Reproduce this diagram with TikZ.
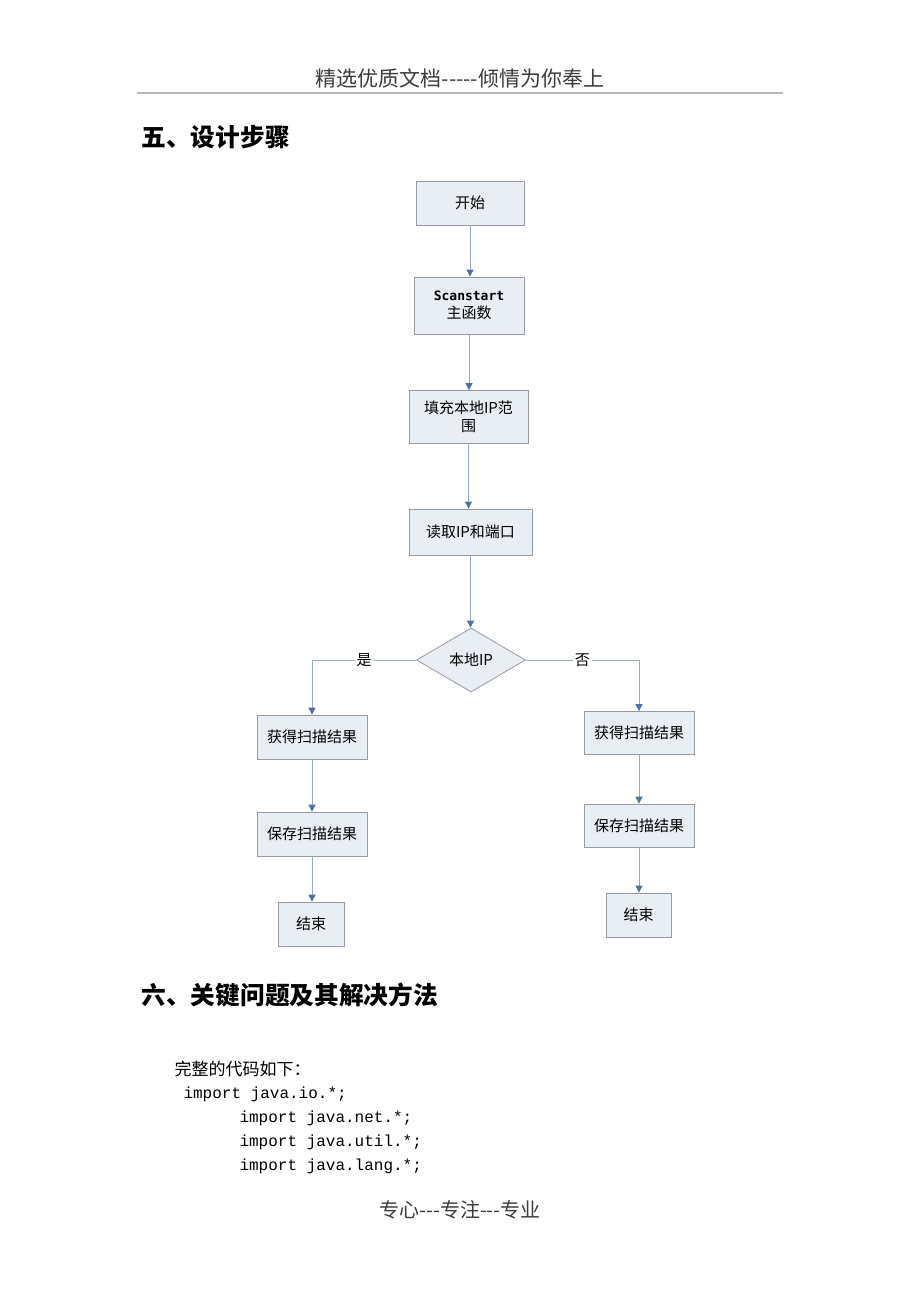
\documentclass[tikz,border=0pt]{standalone}
\usepackage{fontspec}
\setmainfont{Noto Sans CJK SC}
\newfontfamily\codefont{Liberation Mono}
\newfontfamily\scanfont{DejaVu Sans Mono}
\usetikzlibrary{shapes.geometric, arrows.meta}

\definecolor{boxfill}{RGB}{233,237,244}
\definecolor{boxline}{RGB}{150,155,165}
\definecolor{flowline}{RGB}{150,172,205}
\definecolor{tipblue}{RGB}{79,114,165}
\definecolor{headgray}{RGB}{60,60,60}
\definecolor{rulegray}{RGB}{185,185,185}

\newcommand{\pxsize}[2]{\fontsize{#1}{#2}\selectfont}

\begin{document}
\begin{tikzpicture}[x=1pt, y=-1pt,
    stepbox/.style={draw=boxline, fill=boxfill, line width=0.8pt, align=center,
        inner sep=0pt, font=\pxsize{15}{18}},
    flow/.style={draw=flowline, line width=0.9pt,
        -{Triangle[length=7pt, width=7pt, color=tipblue]}},
    flowlabel/.style={fill=white, inner sep=2pt, font=\pxsize{15}{18}}]
    % Page
    \fill[white] (0,0) rectangle (920,1302);
    \useasboundingbox (0,0) rectangle (920,1302);

    % Header and footer
    \node[text=headgray, font=\pxsize{21}{25}] (head) at (460,78) {精选优质文档-{}-{}-{}-{}-倾情为你奉上};
    \draw[rulegray, line width=1.2pt] (137,93) -- (783,93);
    \node[text=headgray, font=\pxsize{20}{24}] (foot) at (460,1210) {专心-{}-{}-专注-{}-{}-专业};

    % Section titles
    \node[anchor=west, font=\bfseries\pxsize{24.7}{28}] (sec5) at (138,137) {五、设计步骤};
    \node[anchor=west, font=\bfseries\pxsize{24.7}{28}] (sec6) at (138,995) {六、关键问题及其解决方法};

    % Main flow
    \node[stepbox, minimum width=108pt, minimum height=44pt] (start) at (470,203) {开始};
    \node[stepbox, minimum width=110pt, minimum height=57pt] (scan) at (469,305.5)
        {{\scanfont\bfseries\pxsize{13}{18}Scanstart}\\主函数};
    \node[stepbox, minimum width=119pt, minimum height=53pt] (range) at (468.5,417) {填充本地IP范\\围};
    \node[stepbox, minimum width=123pt, minimum height=46pt] (read) at (470.5,532) {读取IP和端口};
    \node[diamond, draw=boxline, fill=boxfill, line width=0.8pt, inner sep=0pt,
        minimum width=109pt, minimum height=64pt, font=\pxsize{15}{18}] (local) at (471,660) {本地IP};

    % Left branch
    \node[stepbox, minimum width=110pt, minimum height=44pt] (getL) at (312,737) {获得扫描结果};
    \node[stepbox, minimum width=110pt, minimum height=44pt] (saveL) at (312,834) {保存扫描结果};
    \node[stepbox, minimum width=66pt, minimum height=44pt] (endL) at (311,924) {结束};

    % Right branch
    \node[stepbox, minimum width=110pt, minimum height=43pt] (getR) at (639,733) {获得扫描结果};
    \node[stepbox, minimum width=110pt, minimum height=43pt] (saveR) at (639,825.5) {保存扫描结果};
    \node[stepbox, minimum width=65pt, minimum height=44pt] (endR) at (638.5,915) {结束};

    % Connectors
    \draw[flow] (start) -- (start |- scan.north);
    \draw[flow] (scan) -- (scan |- range.north);
    \draw[flow] (range) -- (range |- read.north);
    \draw[flow] (read) -- (read |- local.north);
    \draw[flow] (local.west) -| node[flowlabel, pos=0.25] (yes) {是} (getL.north);
    \draw[flow] (local.east) -| node[flowlabel, pos=0.25] (no) {否} (getR.north);
    \draw[flow] (getL) -- (getL |- saveL.north);
    \draw[flow] (saveL) -- (saveL |- endL.north);
    \draw[flow] (getR) -- (getR |- saveR.north);
    \draw[flow] (saveR) -- (saveR |- endR.north);

    % Code
    \node[anchor=west, font=\pxsize{17}{20}] (intro) at (171,1069) {完整的代码如下：};
    \node[anchor=west, font=\codefont\pxsize{16}{20}] (imp1) at (180,1094) {import java.io.*;};
    \node[anchor=west, font=\codefont\pxsize{16}{20}] (imp2) at (236,1118) {import java.net.*;};
    \node[anchor=west, font=\codefont\pxsize{16}{20}] (imp3) at (236,1142) {import java.util.*;};
    \node[anchor=west, font=\codefont\pxsize{16}{20}] (imp4) at (236,1166) {import java.lang.*;};
\end{tikzpicture}
\end{document}
